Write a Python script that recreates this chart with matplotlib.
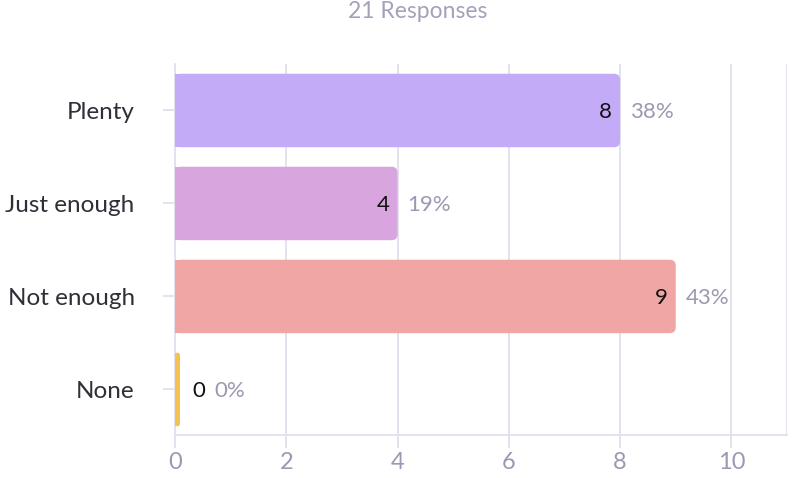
import matplotlib
matplotlib.use('Agg')
import matplotlib.pyplot as plt
from matplotlib.patches import FancyBboxPatch, Rectangle

plt.rcParams['font.family'] = ['Lato', 'DejaVu Sans']

# Data
categories = ['Plenty', 'Just enough', 'Not enough', 'None']
counts = [8, 4, 9, 0]
percents = ['38%', '19%', '43%', '0%']
colors = ['#c3abf7', '#d8a5de', '#efa6a4', '#f6c150']
total_label = '21 Responses'
x_ticks = [0, 2, 4, 6, 8, 10]

grid_col = '#e2e0ec'
tick_col = '#9a99b3'
label_col = '#2f2f38'

fig = plt.figure(figsize=(7.92, 4.78), dpi=100)
ax = fig.add_axes([175 / 792, 1 - 435 / 478, (787 - 175) / 792, (435 - 64) / 478])

ax.set_xlim(0, 11)
ax.set_ylim(3.49, -0.5)

bar_h = 0.79
px_x = (787 - 175) / 11.0
px_y = (435 - 64) / 3.99
r = 6 / px_x
aspect = (6 / px_y) / r

for i, (c, col) in enumerate(zip(counts, colors)):
    w = max(c, 5 / px_x)  # zero bars still get a thin sliver
    y0 = i - bar_h / 2
    rr = min(r, w / 2)
    ax.add_patch(FancyBboxPatch((0, y0), w, bar_h,
                                boxstyle=f'round,pad=0,rounding_size={rr}',
                                mutation_aspect=aspect, fc=col, ec='none', zorder=3))
    ax.add_patch(Rectangle((0, y0), w / 2, bar_h, fc=col, ec='none', zorder=3))
    if c > 0:
        ax.text(c - 8 / px_x, i, str(c), ha='right', va='center_baseline',
                fontsize=16, color='#111111', zorder=4)
        ax.text(c + 10 / px_x, i, percents[i], ha='left', va='center_baseline',
                fontsize=16, color=tick_col, zorder=4)
    else:
        ax.text(w + 12 / px_x, i, str(c), ha='left', va='center_baseline',
                fontsize=16, color='#111111', zorder=4)
        ax.text(w + 34 / px_x, i, percents[i], ha='left', va='center_baseline',
                fontsize=16, color=tick_col, zorder=4)

ax.set_xticks(x_ticks)
ax.set_yticks(range(len(categories)))
ax.set_yticklabels(categories)
ax.grid(axis='x', color=grid_col, lw=1.3, zorder=0)
ax.axvline(11, color=grid_col, lw=1.3, zorder=0)

for s in ['top', 'right']:
    ax.spines[s].set_visible(False)
ax.spines['left'].set_color(grid_col)
ax.spines['bottom'].set_color(grid_col)
ax.spines['left'].set_linewidth(1.3)
ax.spines['bottom'].set_linewidth(1.3)

ax.tick_params(axis='x', length=9, width=1.3, color=grid_col, labelcolor=tick_col,
               labelsize=17, pad=3)
ax.tick_params(axis='y', length=9, width=1.3, color=grid_col, labelcolor=label_col,
               labelsize=17.5, pad=20)
for t in ax.get_yticklabels():
    t.set_verticalalignment('center_baseline')

fig.text(418 / 792, 1 - 12 / 478, total_label, ha='center', va='center',
         fontsize=16.5, color='#a3a2bb')

fig.savefig('out.png', dpi=100)
